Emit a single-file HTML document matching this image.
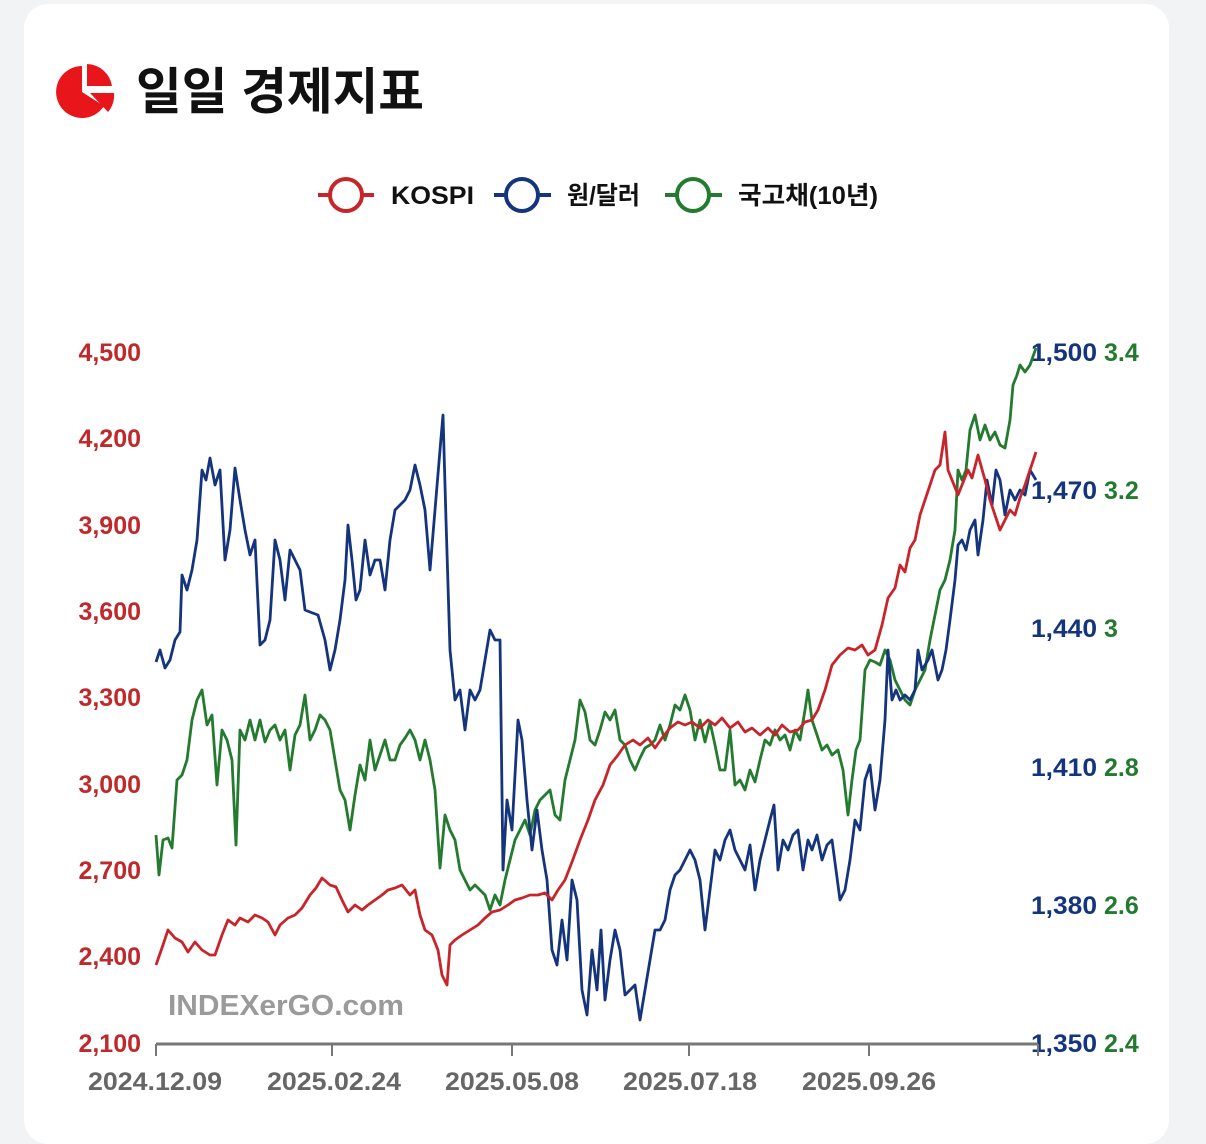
<!DOCTYPE html>
<html><head><meta charset="utf-8"><style>
html,body{margin:0;padding:0;background:#f2f3f5;width:1206px;height:1104px;overflow:hidden}
.card{position:absolute;left:24px;top:4px;width:1145px;height:1140px;background:#fff;border-radius:24px}
svg{position:absolute;left:0;top:0}
text{font-family:"Liberation Sans","Noto Sans CJK KR",sans-serif;font-weight:bold}
</style></head><body>
<div class="card"></div>
<svg width="1206" height="1104" viewBox="0 0 1206 1104">
<!-- icon -->
<path d="M82,66 A26,26 0 1 0 104,106 L82,92 Z" fill="#e8161b"/>
<path d="M87,64 A26,26 0 0 1 112,86 L87,86 Z" fill="#e8161b"/>
<path d="M90,93 L114,93 A26,26 0 0 1 108,112 Z" fill="#e8161b"/>
<text x="136" y="109" font-size="50" fill="#111" textLength="288" lengthAdjust="spacingAndGlyphs">일일 경제지표</text>
<!-- legend -->
<g stroke-width="4" fill="#fff">
<line x1="318" y1="195" x2="374" y2="195" stroke="#c8252b"/><circle cx="346" cy="195" r="16" stroke="#c8252b"/>
<line x1="494" y1="195" x2="551" y2="195" stroke="#15347e"/><circle cx="522" cy="195" r="16" stroke="#15347e"/>
<line x1="665" y1="195" x2="722" y2="195" stroke="#247a2f"/><circle cx="693" cy="195" r="16" stroke="#247a2f"/>
</g>
<text x="391" y="204" font-size="25" fill="#111" textLength="83" lengthAdjust="spacingAndGlyphs">KOSPI</text>
<text x="567" y="204" font-size="25" fill="#111" textLength="73" lengthAdjust="spacingAndGlyphs">원/달러</text>
<text x="738" y="204" font-size="25" fill="#111" textLength="140" lengthAdjust="spacingAndGlyphs">국고채(10년)</text>
<!-- left axis -->
<g font-size="25" fill="#c0292b" text-anchor="end">
<text x="141" y="361">4,500</text><text x="141" y="447">4,200</text><text x="141" y="534">3,900</text>
<text x="141" y="620">3,600</text><text x="141" y="706">3,300</text><text x="141" y="793">3,000</text>
<text x="141" y="879">2,700</text><text x="141" y="965">2,400</text><text x="141" y="1052">2,100</text>
</g>
<g font-size="25" fill="#15347e">
<text x="1031" y="361" textLength="66" lengthAdjust="spacingAndGlyphs">1,500</text><text x="1031" y="499" textLength="66" lengthAdjust="spacingAndGlyphs">1,470</text><text x="1031" y="637" textLength="66" lengthAdjust="spacingAndGlyphs">1,440</text>
<text x="1031" y="776" textLength="66" lengthAdjust="spacingAndGlyphs">1,410</text><text x="1031" y="914" textLength="66" lengthAdjust="spacingAndGlyphs">1,380</text><text x="1031" y="1052" textLength="66" lengthAdjust="spacingAndGlyphs">1,350</text>
</g>
<g font-size="25" fill="#247a2f">
<text x="1104" y="361">3.4</text><text x="1104" y="499">3.2</text><text x="1104" y="637">3</text>
<text x="1104" y="776">2.8</text><text x="1104" y="914">2.6</text><text x="1104" y="1052">2.4</text>
</g>
<text x="168" y="1015" font-size="29" fill="#9a9a9a" textLength="236" lengthAdjust="spacingAndGlyphs">INDEXerGO.com</text>
<!-- x axis -->
<line x1="156" y1="1044" x2="1038" y2="1044" stroke="#777" stroke-width="3"/>
<g stroke="#777" stroke-width="2">
<line x1="156" y1="1044" x2="156" y2="1056"/><line x1="332" y1="1044" x2="332" y2="1056"/>
<line x1="512" y1="1044" x2="512" y2="1056"/><line x1="689" y1="1044" x2="689" y2="1056"/>
<line x1="869" y1="1044" x2="869" y2="1056"/><line x1="1038" y1="1044" x2="1038" y2="1056"/>
</g>
<g font-size="25" fill="#666" text-anchor="middle">
<text x="155" y="1090" textLength="134" lengthAdjust="spacingAndGlyphs">2024.12.09</text><text x="334" y="1090" textLength="134" lengthAdjust="spacingAndGlyphs">2025.02.24</text>
<text x="512" y="1090" textLength="134" lengthAdjust="spacingAndGlyphs">2025.05.08</text><text x="690" y="1090" textLength="134" lengthAdjust="spacingAndGlyphs">2025.07.18</text><text x="869" y="1090" textLength="134" lengthAdjust="spacingAndGlyphs">2025.09.26</text>
</g>
<g fill="none" stroke-width="2.8" stroke-linejoin="round">
<polyline stroke="#247a2f" points="156,835 159,875 163,840 168,838 172,848 177,780 182,775 187,760 192,720 197,700 202,690 207,725 212,715 217,785 222,730 227,740 232,760 236,845 240,730 245,740 250,720 255,740 260,720 265,742 270,730 275,725 280,740 285,730 290,770 295,735 300,725 305,695 310,740 315,730 320,715 325,720 330,730 335,760 340,790 345,800 350,830 355,795 360,765 365,780 370,740 375,770 380,755 385,740 390,760 395,760 400,745 405,738 410,730 415,740 420,760 425,740 430,760 435,790 440,868 445,815 450,830 455,840 460,870 465,880 470,890 475,885 480,890 485,895 490,910 495,895 500,905 505,880 510,860 515,840 520,830 525,820 530,835 535,810 540,800 545,795 550,790 555,815 560,820 565,780 570,760 575,740 580,700 585,712 590,740 595,745 600,730 605,712 610,720 615,710 620,740 625,745 630,760 635,770 640,758 645,748 650,745 655,740 660,725 665,740 670,725 675,705 680,710 685,695 690,710 695,740 700,720 705,742 710,722 715,745 720,770 725,770 730,730 735,785 740,780 745,790 750,770 755,782 760,760 765,740 770,745 775,730 780,740 785,735 790,750 795,730 800,740 805,710 808,690 812,720 817,735 822,750 827,745 832,755 838,750 843,770 848,815 852,780 856,750 860,740 865,670 870,660 875,662 880,665 885,650 890,660 895,680 900,690 905,700 910,705 915,690 920,680 925,670 930,640 935,615 940,590 945,580 950,560 955,530 958,470 962,480 966,470 970,430 975,415 980,440 985,425 990,440 995,432 1000,445 1005,448 1010,420 1013,385 1017,375 1020,365 1025,372 1030,365 1036,348"/>
<polyline stroke="#15347e" points="156,662 160,650 165,668 170,660 175,640 180,632 182,575 187,590 192,570 197,540 202,470 206,480 210,458 215,485 220,470 225,560 230,530 235,468 240,500 245,530 250,555 255,540 260,645 265,640 270,620 275,540 280,560 285,600 290,550 295,560 300,570 305,610 310,612 318,615 325,640 330,670 335,650 340,620 345,580 348,525 352,560 356,600 360,590 365,540 370,575 375,560 380,560 385,590 390,540 395,510 400,505 405,500 410,490 415,465 420,485 425,510 430,570 435,510 440,450 443,415 446,520 450,650 455,700 460,690 465,730 470,690 475,700 480,690 485,660 490,630 495,640 500,640 503,870 507,800 512,830 518,720 522,740 527,800 532,850 537,810 542,850 547,880 552,950 557,965 562,920 567,960 572,880 577,900 582,990 587,1015 592,950 597,990 601,930 605,1000 610,960 615,930 620,950 625,995 630,990 635,985 640,1020 645,990 650,960 655,930 660,930 665,920 670,890 675,875 680,870 685,860 690,850 695,860 700,880 705,930 710,890 715,850 720,860 725,840 730,830 735,850 740,860 745,870 750,845 755,890 760,860 765,840 770,820 774,805 778,870 783,840 788,850 793,835 798,830 803,870 808,840 812,850 817,835 822,860 827,845 832,840 836,870 840,900 845,890 850,860 855,820 860,830 865,780 870,765 875,810 880,780 885,720 888,650 892,700 896,690 900,700 905,695 910,700 915,690 918,650 922,670 928,660 932,650 938,680 942,670 946,650 950,620 955,580 958,545 962,540 966,550 970,530 975,520 978,555 983,520 987,480 992,505 996,470 1000,480 1005,515 1010,490 1015,500 1020,490 1025,495 1030,470 1036,480"/>
<polyline stroke="#c8252b" points="156,965 163,945 168,930 175,938 182,942 188,952 195,942 202,950 210,955 215,955 222,935 228,920 235,925 240,918 248,922 255,915 262,918 268,922 275,935 280,925 288,918 295,915 302,908 310,895 316,888 322,878 330,885 336,887 342,900 348,912 355,905 362,910 368,905 375,900 382,895 388,890 395,888 402,885 410,895 415,890 420,915 425,930 432,935 438,950 442,975 447,985 450,945 455,940 462,935 470,930 478,925 485,918 492,912 500,910 508,905 515,900 522,898 530,895 538,895 545,893 552,900 558,890 565,880 572,862 580,840 588,820 595,800 603,785 610,765 618,755 625,745 633,740 640,745 648,738 655,748 662,738 670,728 678,722 685,725 692,722 700,728 708,720 715,725 722,718 730,728 738,722 745,732 752,728 760,735 768,728 775,735 782,725 790,732 798,730 805,722 812,720 818,710 825,690 832,665 840,655 848,648 855,650 862,645 868,655 875,650 882,625 888,598 895,588 900,565 905,572 910,548 915,540 920,515 925,500 930,485 935,470 940,465 945,432 948,470 952,480 958,495 962,485 968,470 972,478 978,455 985,480 990,500 995,515 1000,530 1005,520 1010,510 1015,515 1020,498 1025,485 1030,470 1036,452"/>
</g>
</svg>
</body></html>
